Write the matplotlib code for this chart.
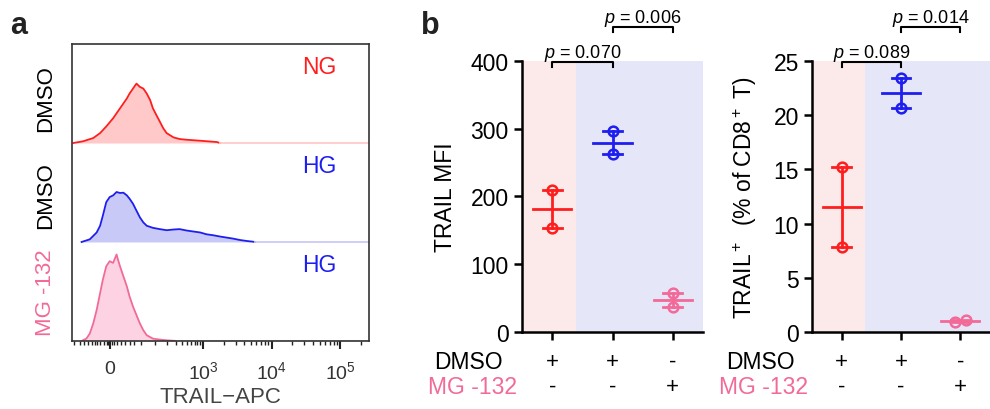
import matplotlib.pyplot as plt
import numpy as np

plt.rcParams["font.family"] = ["Liberation Sans", "DejaVu Sans"]
plt.rcParams["mathtext.fontset"] = "custom"
plt.rcParams["mathtext.rm"] = "Liberation Sans"
plt.rcParams["mathtext.it"] = "Liberation Sans:italic"

RED = "#ff1e1e"
BLUE = "#1e1ef0"
PINK = "#f26a98"

# panel a: histogram outlines, x in axis display units (10^3 -> 3, 10^4 -> 4 ...)
ng_x = [1.11, 1.25, 1.40, 1.50, 1.59, 1.69, 1.79, 1.89, 1.93, 1.98, 2.03, 2.08, 2.13,
        2.18, 2.23, 2.27, 2.32, 2.37, 2.42, 2.47, 2.57, 2.66, 2.76, 2.96, 3.20, 3.25]
ng_y = [0, 0.017, 0.05, 0.10, 0.167, 0.25, 0.35, 0.45, 0.50, 0.55, 0.60, 0.567, 0.55,
        0.50, 0.433, 0.35, 0.283, 0.217, 0.15, 0.10, 0.057, 0.04, 0.033, 0.023, 0.01, 0]
hg_x = [1.23, 1.35, 1.45, 1.50, 1.54, 1.59, 1.64, 1.69, 1.74, 1.79, 1.84, 1.89, 1.93,
        1.98, 2.03, 2.08, 2.13, 2.18, 2.27, 2.37, 2.47, 2.57, 2.66, 2.76, 2.86, 2.96,
        3.05, 3.15, 3.25, 3.35, 3.44, 3.54, 3.64, 3.73, 3.76]
hg_y = [0, 0.027, 0.096, 0.164, 0.266, 0.403, 0.454, 0.471, 0.505, 0.495, 0.498, 0.471,
        0.437, 0.386, 0.317, 0.249, 0.198, 0.164, 0.143, 0.130, 0.119, 0.126, 0.130,
        0.116, 0.106, 0.096, 0.078, 0.068, 0.055, 0.044, 0.034, 0.020, 0.010, 0.003, 0]
mg_x = [1.23, 1.30, 1.35, 1.40, 1.45, 1.50, 1.54, 1.59, 1.64, 1.69, 1.72, 1.74, 1.76,
        1.79, 1.84, 1.89, 1.93, 1.98, 2.03, 2.08, 2.13, 2.18, 2.27, 2.37, 2.47, 2.62]
mg_y = [0, 0.024, 0.075, 0.177, 0.313, 0.483, 0.619, 0.755, 0.806, 0.789, 0.840, 0.874,
        0.823, 0.755, 0.653, 0.551, 0.449, 0.347, 0.262, 0.177, 0.109, 0.058, 0.024,
        0.014, 0.007, 0]

hist_rows = [(ng_x, ng_y, RED, "#ffc9c9", "DMSO", "black", "NG", RED),
             (hg_x, hg_y, BLUE, "#c9c9f7", "DMSO", "black", "HG", BLUE),
             (mg_x, mg_y, PINK, "#fdd3e4", "MG -132", PINK, "HG", BLUE)]

# panel b data
groups = [0, 1, 2]
mfi = [[209, 154], [296, 262], [57, 37]]
pct = [[15.2, 7.8], [23.4, 20.7], [0.9, 1.1]]
dmso_signs = ["+", "+", "-"]
mg_signs = ["-", "-", "+"]
colors = [RED, BLUE, PINK]

fig = plt.figure(figsize=(9.9, 4.1), dpi=100)

# ---- panel a
ax = fig.add_axes([0.0727, 0.1659, 0.3, 0.7243])
ax.set_xlim(1.09, 5.42)
ax.set_ylim(0, 3)
for i, (x, y, c, fc, lab, lab_c, cond, cond_c) in enumerate(hist_rows):
    base = 2 - i
    yy = np.array(y) + base
    ax.fill_between(x, base, yy, color=fc, lw=0)
    ax.plot(x, yy, color=c, lw=1.3)
    ax.plot([x[-1], 5.42], [base, base], color=fc, lw=1.3)
    ax.text(4.7, base + 0.77, cond, color=cond_c, fontsize=16.5, ha="center", va="center")
    fig.text(0.046, (410 - (99 + 97 * i)) / 410, lab, rotation=90, color=lab_c,
             fontsize=16, ha="center", va="center")
ax.set_yticks([])
for s in ax.spines.values():
    s.set_color("#333333")
    s.set_linewidth(1.2)

major = [1.64, 3, 4, 5]
ax.set_xticks(major)
ax.set_xticklabels(["0", "$10^3$", "$10^4$", "$10^5$"], fontsize=14, color="#333333")
minor = [1.12, 1.2, 1.27, 1.33, 1.38, 1.42, 1.46, 1.5, 1.55, 1.6, 1.62, 1.67, 1.7,
         1.75, 1.8, 1.86, 1.93, 2.0, 2.1, 2.3, 2.48, 2.6, 2.7, 2.77, 2.83, 2.88, 2.92, 2.96]
minor += [d + np.log10(m) for d in (3, 4) for m in range(2, 10)] + [5.3]
ax.set_xticks(minor, minor=True)
ax.tick_params(axis="x", which="major", length=6, width=1.5, color="#222222", pad=8)
ax.tick_params(axis="x", which="minor", length=3, width=1, color="#222222")
ax.set_xlabel("TRAIL\u2212APC", fontsize=16, color="#444444", labelpad=3)
fig.text(0.01, 0.9, "a", fontsize=22, fontweight="bold", color="#222222", va="bottom")


# ---- panel b
def dot_panel(rect, data, ylim, yticks, ylabel, pvals, pjit=0.0):
    ax = fig.add_axes(rect)
    ax.set_xlim(-0.5, 2.5)
    ax.set_ylim(*ylim)
    ax.axvspan(-0.5, 0.4, color="#fbeae9", lw=0, zorder=0)
    ax.axvspan(0.4, 2.5, color="#e6e6f9", lw=0, zorder=0)
    for g, vals, c in zip(groups, data, colors):
        lo, hi = min(vals), max(vals)
        m = np.mean(vals)
        ax.plot([g, g], [lo, hi], color=c, lw=2)
        ax.plot([g - 0.16, g + 0.16], [lo, lo], color=c, lw=2)
        ax.plot([g - 0.16, g + 0.16], [hi, hi], color=c, lw=2)
        ax.plot([g - 0.32, g + 0.32], [m, m], color=c, lw=2)
        xs = [g - pjit, g + pjit] if g == 2 else [g, g]
        ax.plot(xs, vals, "o", mfc="none", mec=c, mew=1.8, ms=7)
    for s in ["top", "right"]:
        ax.spines[s].set_visible(False)
    for s in ["left", "bottom"]:
        ax.spines[s].set_linewidth(1.8)
    ax.set_yticks(yticks)
    ax.tick_params(axis="y", labelsize=16.5, width=1.8, length=6)
    ax.set_xticks(groups)
    ax.set_xticklabels([])
    ax.tick_params(axis="x", width=1.8, length=6)
    ax.set_ylabel(ylabel, fontsize=16.5, labelpad=10)
    top = ylim[1]
    u = top / 271
    for (a, b, ybar, txt) in pvals:
        ax.plot([a, a, b, b], [ybar - 5 * u, ybar, ybar, ybar - 5 * u], color="black",
                lw=1.5, clip_on=False)
        ax.text((a + b) / 2, ybar + 5 * u, txt, ha="center", va="baseline", fontsize=13)
    for g, s1, s2 in zip(groups, dmso_signs, mg_signs):
        ax.text(g, -29 * u, s1, ha="center", va="center", fontsize=16)
        ax.text(g, -54 * u, s2, ha="center", va="center", fontsize=16)
    ax.text(-0.5 - 87 / 60, -29 * u, "DMSO", ha="left", va="center", fontsize=16.5)
    ax.text(-0.5 - 94 / 60, -54 * u, "MG -132", ha="left", va="center", fontsize=16.5,
            color=PINK)
    return ax


dot_panel([0.5273, 0.1878, 0.1828, 0.661], mfi, (0, 400), [0, 100, 200, 300, 400],
          "TRAIL MFI",
          [(0, 1, 400 - 1 * 400 / 271, "$p$ = 0.070"), (1, 2, 400 + 34 * 400 / 271, "$p$ = 0.006")])
dot_panel([0.8202, 0.1878, 0.1798, 0.661], pct, (0, 25), [0, 5, 10, 15, 20, 25],
          "TRAIL$^+$  (% of CD8$^+$ T)",
          [(0, 1, 25 - 1 * 25 / 271, "$p$ = 0.089"), (1, 2, 25 + 34 * 25 / 271, "$p$ = 0.014")],
          pjit=0.09)
fig.text(0.425, 0.9, "b", fontsize=22, fontweight="bold", color="#222222", va="bottom")

fig.savefig("out.png", dpi=100)
